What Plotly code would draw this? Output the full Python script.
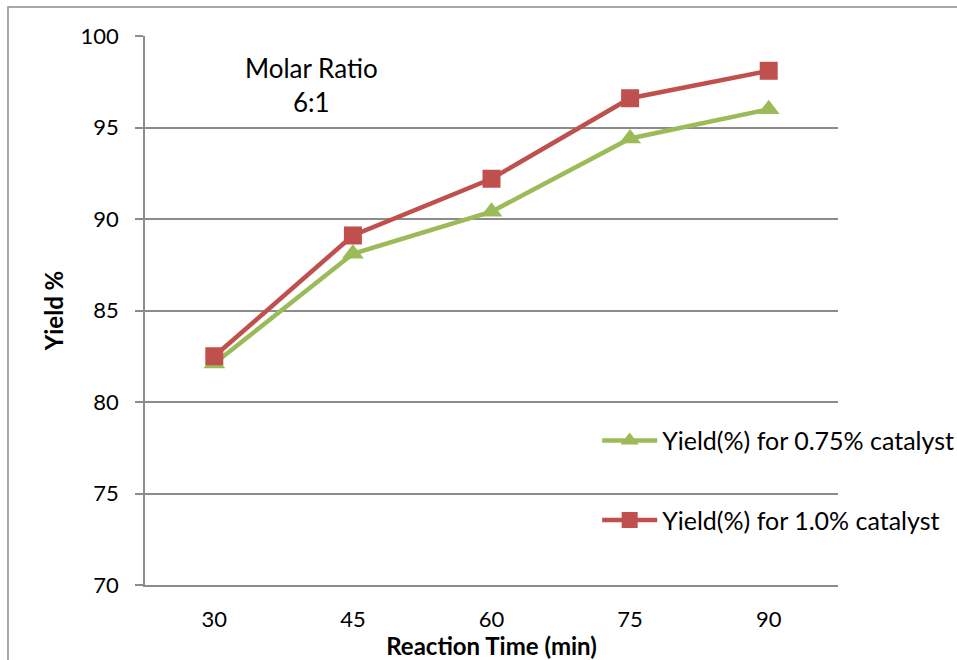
import plotly.graph_objects as go

# Reaction time categories (min)
reaction_time = ["30", "45", "60", "75", "90"]

# Yield (%) per catalyst loading
yield_075 = [82.1, 88.1, 90.4, 94.4, 96.0]
yield_100 = [82.5, 89.1, 92.2, 96.6, 98.1]

series_names = ["Yield(%) for 0.75% catalyst", "Yield(%) for 1.0% catalyst"]

y_ticks = [70, 75, 80, 85, 90, 95, 100]

GREEN = "#9BBB59"
RED = "#C0504D"
GRID = "#8C8C8C"
FONT = "Lato, 'Open Sans', sans-serif"

fig = go.Figure()
fig.add_trace(go.Scatter(
    x=reaction_time, y=yield_075, name=series_names[0],
    mode="lines+markers", legendgroup="a",
    line=dict(color=GREEN, width=4.5),
    marker=dict(symbol="triangle-up", size=19, color=GREEN),
))
fig.add_trace(go.Scatter(
    x=reaction_time, y=yield_100, name=series_names[1],
    mode="lines+markers", legendgroup="b",
    line=dict(color=RED, width=4.5),
    marker=dict(symbol="square", size=18, color=RED),
))

fig.update_layout(
    width=957, height=660,
    margin=dict(l=145, r=119, t=36, b=75, autoexpand=False),
    paper_bgcolor="white", plot_bgcolor="white",
    font=dict(family=FONT, size=22, color="black"),
    showlegend=True,
    legend=dict(
        xref="container", yref="container",
        x=0.624, y=0.367, xanchor="left", yanchor="top",
        bgcolor="rgba(0,0,0,0)", traceorder="grouped",
        tracegroupgap=44, itemwidth=55, font=dict(size=25),
    ),
    xaxis=dict(
        type="category", range=[-0.5, 4.5], showgrid=False, showline=True,
        linecolor=GRID, linewidth=1.5, ticks="", ticklabelstandoff=14,
        tickfont=dict(size=22), automargin=False,
        title=dict(text="<b>Reaction Time (min)</b>", standoff=6,
                   font=dict(size=24)),
        fixedrange=True,
    ),
    yaxis=dict(
        range=[70, 100], tickvals=y_ticks, showgrid=True,
        gridcolor=GRID, gridwidth=1.5, showline=True, linecolor=GRID,
        linewidth=1.5, ticks="outside", ticklen=8, tickcolor=GRID,
        tickwidth=1.5, zeroline=False, ticklabelstandoff=12,
        tickfont=dict(size=22), automargin=False,
        title=dict(text="<b>Yield %</b>", standoff=10, font=dict(size=24)),
        fixedrange=True,
    ),
    annotations=[dict(
        text="Molar Ratio<br>6:1", xref="paper", yref="paper",
        x=0.24, y=0.975, xanchor="center", yanchor="top",
        showarrow=False, align="center", font=dict(size=26),
    )],
    shapes=[dict(
        type="rect", xref="paper", yref="paper",
        x0=-0.1977, x1=1.3, y0=-0.3, y1=1.0528,
        line=dict(color="#8C8C8C", width=1.5), layer="below",
    )],
)

fig.write_html("out.html")
